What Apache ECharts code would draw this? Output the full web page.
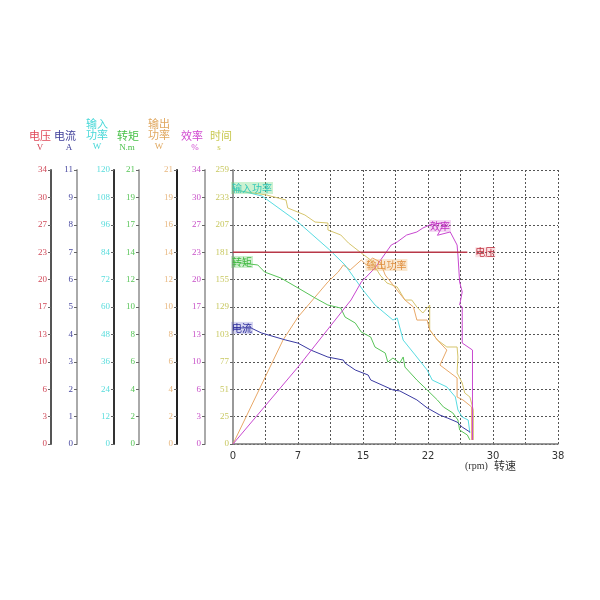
<!DOCTYPE html>
<html><head><meta charset="utf-8">
<script src="https://cdn.jsdelivr.net/npm/echarts@6/dist/echarts.min.js"></script>
<style>html,body{margin:0;padding:0;background:#fff}#c{width:600px;height:600px}</style>
</head><body><div id="c"></div>
<script>
// tick labels
const xTicks = ['0','','7','','15','','22','','30','','38'];
const voltTicks = ['0','3','6','10','13','17','20','23','27','30','34'];
const currTicks = ['0','1','2','3','4','5','6','7','8','9','11'];
const pinTicks = ['0','12','24','36','48','60','72','84','96','108','120'];
const torqTicks = ['0','2','4','6','8','10','12','14','17','19','21'];
const poutTicks = ['0','2','4','6','8','10','12','14','16','19','21'];
const effTicks = ['0','3','6','10','13','17','20','23','27','30','34'];
const timeTicks = ['0','25','51','77','103','129','155','181','207','233','259'];

// series (speed rpm -> value)
const voltX = [0, 27.4];
const voltY = [23.8, 23.8];
const currX = [0, 2.1, 3.3, 6.1, 7.6, 9.1, 11.1, 12.9, 13.1, 14.3, 15.8, 16.1, 18.7, 19.5, 21.5, 22.7, 24.2, 25.1, 26.2, 26.8, 27.7];
const currY = [4.66, 4.66, 4.46, 4.18, 4.05, 3.77, 3.49, 3.37, 3.25, 2.97, 2.77, 2.57, 2.17, 2.13, 1.77, 1.45, 1.16, 1.04, 0.88, 0.68, 0.48];
const torqX = [0, 2.9, 3.7, 5.6, 7.6, 9.6, 11.1, 12.6, 13.1, 14.3, 15.0, 16.1, 16.6, 17.8, 18.1, 18.7, 19.5, 19.9, 20.1, 21.5, 22.7, 23.9, 24.6, 25.7, 26.3, 26.5, 27.4, 27.7];
const torqY = [13.95, 13.72, 13.18, 12.72, 11.96, 11.19, 10.65, 10.42, 9.73, 9.27, 8.58, 8.2, 7.43, 6.97, 6.28, 6.59, 6.21, 6.67, 5.9, 4.9, 4.14, 3.37, 2.84, 2.38, 1.84, 1.07, 0.69, 0.31];
const pinX = [0, 3.4, 7.6, 11.3, 13.1, 15.2, 16.6, 18.7, 19.2, 19.9, 21.3, 22.7, 23.3, 25.0, 26.0, 26.3, 26.8, 27.5, 27.7];
const pinY = [111.7, 108.6, 97.2, 85.0, 78.4, 67.4, 60.9, 54.3, 55.2, 45.5, 39.0, 32.4, 28.0, 25.0, 20.6, 14.9, 11.8, 10.5, 4.8];
const effX = [0, 7.6, 11.3, 13.8, 15.0, 16.6, 18.5, 19.2, 20.3, 21.5, 22.2, 23.0, 24.2, 24.6, 23.9, 25.4, 26.2, 26.3, 26.5, 26.8, 26.5, 26.8, 26.8, 28.0, 28.0];
const effY = [0, 9.55, 14.52, 17.87, 20.1, 21.84, 24.69, 25.07, 25.93, 26.31, 26.8, 27.18, 27.42, 27.18, 25.9, 26.31, 24.69, 23.45, 20.1, 18.86, 17.25, 17.0, 12.53, 11.66, 0.5];
const poutX = [0, 5.85, 7.6, 9.1, 11.1, 12.3, 12.9, 13.7, 15.0, 15.6, 16.3, 17.2, 17.8, 18.9, 20.1, 21.1, 21.5, 22.7, 23.0, 23.9, 25.0, 24.2, 26.2, 26.2, 26.9, 27.9, 27.9];
const poutY = [0, 7.97, 9.73, 10.88, 12.42, 13.18, 13.72, 13.34, 14.1, 13.72, 14.26, 13.95, 12.95, 12.03, 11.04, 10.5, 9.5, 9.5, 8.74, 7.97, 7.2, 6.05, 5.06, 3.6, 3.37, 2.84, 0.31];
const timeX = [0, 3.9, 6.2, 6.4, 8.4, 9.6, 11.1, 11.1, 12.6, 13.5, 15.0, 16.1, 17.2, 18.0, 19.2, 20.1, 20.9, 21.5, 22.2, 23.0, 23.0, 23.9, 25.0, 26.2, 26.3, 26.2, 26.8, 27.1, 27.7, 28.1, 28.1];
const timeY = [240, 235.4, 230.6, 223.1, 216.5, 209.8, 208.9, 202.3, 197.6, 190, 180.5, 173.9, 159.7, 152.2, 148.4, 136.1, 136.1, 129.5, 123.8, 131.4, 107.8, 98.3, 91.7, 91.7, 82.2, 67.1, 57.7, 48.2, 44.4, 32.1, 3.8];

const zip = (xs, ys) => xs.map((x, i) => [x, ys[i]]);
const numFont = 'Liberation Serif';
const cjk = 'Noto Sans CJK SC';

function yAx(max, labels, offset, color, lineColor, main) {
  const step = max / 10;
  return {
    type: 'value', position: 'left', offset: offset, min: 0, max: max, interval: step,
    axisLine: { show: true, onZero: false, lineStyle: { color: lineColor, width: 2 } },
    axisTick: { show: true, length: 3, lineStyle: { color: '#666' } },
    axisLabel: { color: color, fontSize: 9, fontFamily: numFont, margin: 4,
      formatter: v => labels[Math.round(v / step)] },
    splitLine: main ? { show: true, lineStyle: { color: '#555', type: [2, 2], width: 1 } } : { show: false }
  };
}

function lbl(text, color, bg, extra) {
  return Object.assign({ show: true, formatter: text, color: color, fontSize: 10, fontFamily: cjk,
    backgroundColor: bg, padding: [1, 1] }, extra || {});
}

const pinData = zip(pinX, pinY);
pinData[0] = { value: pinData[0], label: lbl('输入功率', '#30c8b8', 'rgba(110,215,120,0.35)', { position: 'right', distance: 0, offset: [-2, -1] }) };
const torqData = zip(torqX, torqY);
torqData[0] = { value: torqData[0], label: lbl('转矩', '#40b840', 'rgba(90,200,90,0.3)', { position: 'right', distance: 0, offset: [-2, 0] }) };
const currData = zip(currX, currY);
currData[0] = { value: currData[0], label: lbl('电流', '#2a2a9a', 'rgba(90,90,200,0.25)', { position: 'right', distance: 0, offset: [-2, 0] }) };
const poutData = zip(poutX, poutY);
poutData[10] = { value: poutData[10], label: lbl('输出功率', '#e09040', 'rgba(240,180,100,0.3)', { position: 'inside', offset: [14, 7] }) };
const effData = zip(effX, effY);
effData[12] = { value: effData[12], label: lbl('效率', '#c030c0', 'rgba(210,100,210,0.25)', { position: 'inside', offset: [0, 3] }) };

function line(name, data, yi, color, w) {
  return { name: name, type: 'line', data: data, yAxisIndex: yi, showSymbol: true, showAllSymbol: true,
    symbol: 'circle', symbolSize: 0,
    lineStyle: { color: color, width: w || 1 }, itemStyle: { color: color }, z: 3, silent: true };
}

const series = [
  line('时间', zip(timeX, timeY), 6, '#d6c56c'),
  line('输出功率', poutData, 4, '#e8a868'),
  line('输入功率', pinData, 2, '#58dce2'),
  line('转矩', torqData, 3, '#58c458'),
  line('电流', currData, 1, '#3a3aa2'),
  line('效率', effData, 5, '#c848d0'),
  Object.assign(line('电压', zip(voltX, voltY), 0, '#b83848', 1.5), {
    endLabel: { show: true, formatter: '电压', color: '#c03040', fontSize: 10, fontFamily: cjk,
      backgroundColor: 'rgba(235,130,140,0.25)', distance: 8 }
  })
];

function txt(x, y, t, color, size, font) {
  return { type: 'text', x: x, y: y, style: { text: t, fill: color, font: size + 'px "' + font + '"',
    textAlign: 'center', textVerticalAlign: 'middle' } };
}
const graphics = [
  txt(40, 136, '电压', '#e04858', 11, cjk), txt(40, 148, 'V', '#d04050', 9, numFont),
  txt(65, 136, '电流', '#3c3c98', 11, cjk), txt(69, 148, 'A', '#3c3c98', 9, numFont),
  txt(97, 124, '输入', '#48d8d8', 11, cjk), txt(97, 135, '功率', '#48d8d8', 11, cjk), txt(97, 147, 'W', '#48d8d8', 9, numFont),
  txt(128, 136, '转矩', '#48c048', 11, cjk), txt(127, 148, 'N.m', '#48c048', 9, numFont),
  txt(159, 124, '输出', '#e0a860', 11, cjk), txt(159, 135, '功率', '#e0a860', 11, cjk), txt(159, 147, 'W', '#e0a860', 9, numFont),
  txt(192, 136, '效率', '#d048d0', 11, cjk), txt(195, 148, '%', '#d048d0', 9, numFont),
  txt(221, 136, '时间', '#c8c850', 11, cjk), txt(219, 148, 's', '#c8c850', 9, numFont),
  { type: 'text', x: 465, y: 466, style: { text: '(rpm)', fill: '#333', font: '10px "Liberation Serif"', textVerticalAlign: 'middle' } },
  { type: 'text', x: 494, y: 466, style: { text: '转速', fill: '#333', font: '11px "Noto Sans CJK SC"', textVerticalAlign: 'middle' } }
];

const chart = echarts.init(document.getElementById('c'), null, { renderer: 'canvas' });
chart.setOption({
  animation: false,
  backgroundColor: '#fff',
  grid: { left: 233, top: 170, right: 42, bottom: 156, containLabel: false },
  xAxis: {
    type: 'value', min: 0, max: 38, interval: 3.8,
    axisLine: { show: true, onZero: false, lineStyle: { color: '#777', width: 1.5 } },
    axisTick: { show: false },
    axisLabel: { color: '#333', fontSize: 10, fontFamily: 'DejaVu Sans', margin: 7,
      formatter: v => xTicks[Math.round(v / 3.8)] },
    splitLine: { show: true, lineStyle: { color: '#555', type: [2, 2], width: 1 } }
  },
  yAxis: [
    yAx(34, voltTicks, 182, '#d04858', '#555'),
    yAx(11, currTicks, 156, '#4848a0', '#aaa'),
    yAx(120, pinTicks, 119, '#58dcdc', '#333'),
    yAx(21, torqTicks, 94, '#58c458', '#aaa'),
    yAx(21, poutTicks, 56, '#e8b880', '#222'),
    yAx(34, effTicks, 28, '#c850c8', '#aaa'),
    yAx(259, timeTicks, 0, '#c8c860', '#999', true)
  ],
  graphic: graphics,
  series: series
});
</script></body></html>
